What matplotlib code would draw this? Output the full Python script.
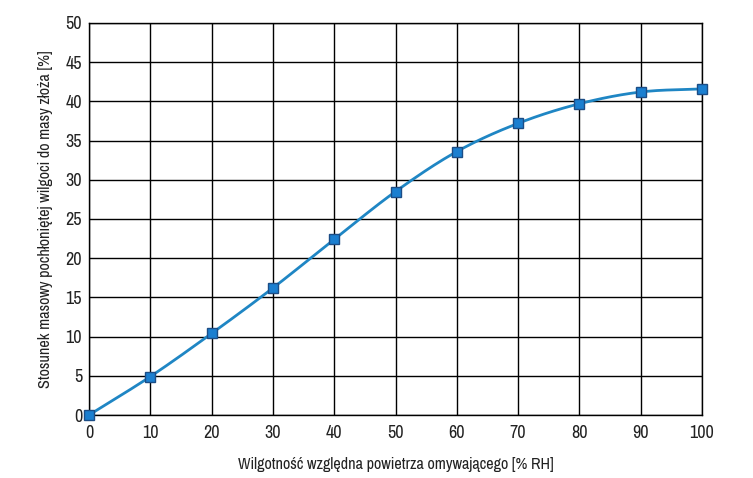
import numpy as np
import matplotlib.pyplot as plt
from matplotlib import font_manager

# dane
rh = [0, 10, 20, 30, 40, 50, 60, 70, 80, 90, 100]
moisture = [0.0, 4.9, 10.4, 16.2, 22.4, 28.5, 33.6, 37.2, 39.7, 41.2, 41.6]

x_ticks = list(range(0, 101, 10))
y_ticks = list(range(0, 51, 5))
x_label = 'Wilgotność względna powietrza omywającego [% RH]'
y_label = 'Stosunek masowy pochłoniętej wilgoci do masy złoża [%]'

names = {f.name for f in font_manager.fontManager.ttflist}
fam = 'Liberation Sans'
for cand in ['Liberation Sans Narrow', 'Arial Narrow', 'Archivo Narrow',
             'Roboto Condensed', 'PT Sans Narrow', 'Open Sans Condensed']:
    if cand in names:
        fam = cand
        break
plt.rcParams['font.family'] = [fam, 'DejaVu Sans']


def smooth(x, y, n=20):
    # wygładzona linia (Catmull-Rom) tylko do rysowania
    x = np.asarray(x, float)
    y = np.asarray(y, float)
    px = np.concatenate([[2 * x[0] - x[1]], x, [2 * x[-1] - x[-2]]])
    py = np.concatenate([[2 * y[0] - y[1]], y, [2 * y[-1] - y[-2]]])
    xs, ys = [], []
    t = np.linspace(0, 1, n)
    for i in range(1, len(px) - 2):
        for p, out in ((px, xs), (py, ys)):
            p0, p1, p2, p3 = p[i - 1], p[i], p[i + 1], p[i + 2]
            out.extend(0.5 * (2 * p1 + (-p0 + p2) * t
                              + (2 * p0 - 5 * p1 + 4 * p2 - p3) * t ** 2
                              + (-p0 + 3 * p1 - 3 * p2 + p3) * t ** 3))
    return xs, ys


fig = plt.figure(figsize=(7.53, 4.78), dpi=100)
ax = fig.add_axes([89 / 753, 63 / 478, 613 / 753, 392 / 478])

sx, sy = smooth(rh, moisture)
ax.plot(sx, sy, color='#1f86c4', lw=2, zorder=3, clip_on=False)
ax.plot(rh, moisture, ls='none', marker='s', ms=7.5, mfc='#1b7fd0',
        mec='#1c4d86', mew=1, zorder=4, clip_on=False)

ax.set_xlim(0, 100)
ax.set_ylim(0, 50)
ax.set_xticks(x_ticks)
ax.set_yticks(y_ticks)
ax.grid(True, color='black', lw=1)
ax.set_axisbelow(True)
for s in ax.spines.values():
    s.set_linewidth(1)
ax.tick_params(axis='x', length=0, labelsize=13, pad=7, colors='#222222')
ax.tick_params(axis='y', length=0, labelsize=13, pad=5, colors='#222222')
ax.set_xlabel(x_label, fontsize=11.6, labelpad=12, color='#222222')
ax.set_ylabel(y_label, fontsize=11.6, labelpad=9, color='#222222')

fig.savefig('out.png', dpi=100)
